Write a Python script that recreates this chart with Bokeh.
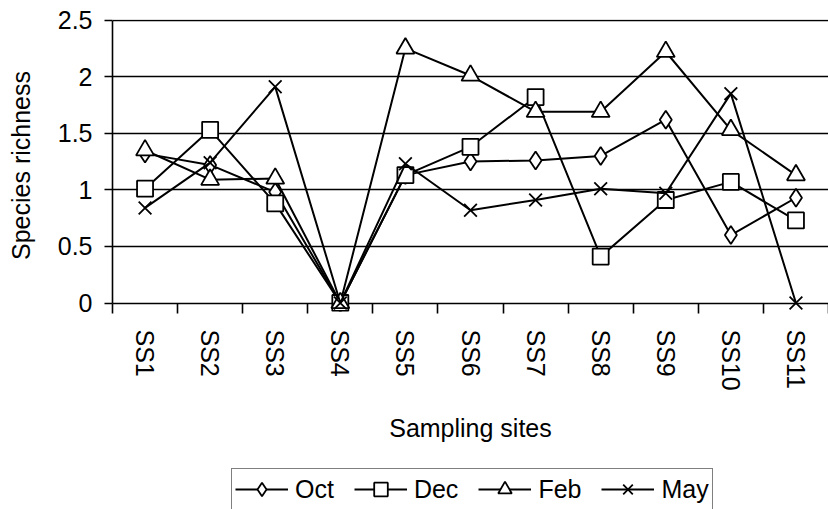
from bokeh.plotting import figure
from bokeh.layouts import column
from bokeh.models import (FixedTicker, Legend, LegendItem, Range1d)
from bokeh.embed import file_html
from bokeh.resources import INLINE

# Species richness per sampling site, one series per sampling month
sites = ["SS1", "SS2", "SS3", "SS4", "SS5", "SS6", "SS7", "SS8", "SS9", "SS10", "SS11"]
oct_vals = [1.32, 1.22, 0.98, 0.0, 1.13, 1.25, 1.26, 1.30, 1.62, 0.60, 0.93]
dec_vals = [1.01, 1.53, 0.88, 0.0, 1.13, 1.38, 1.82, 0.41, 0.91, 1.07, 0.73]
feb_vals = [1.35, 1.09, 1.10, 0.0, 2.25, 2.01, 1.69, 1.69, 2.22, 1.53, 1.13]
may_vals = [0.84, 1.24, 1.91, 0.0, 1.23, 0.82, 0.91, 1.01, 0.97, 1.85, 0.0]
y_ticks = [0, 0.5, 1, 1.5, 2, 2.5]
y_tick_labels = ["0", "0.5", "1", "1.5", "2", "2.5"]

FONT = "Liberation Sans"
x = list(range(1, len(sites) + 1))

p = figure(width=828, height=465, output_backend="svg", toolbar_location=None,
           x_range=Range1d(0.5, 11.5), y_range=Range1d(-0.075, 2.505),
           min_border_left=112, min_border_right=0, min_border_top=19,
           min_border_bottom=154)
p.outline_line_color = None
p.background_fill_color = "white"
p.border_fill_color = "white"

# horizontal gridlines (the one at 0 doubles as the category axis line)
p.xgrid.visible = False
p.ygrid.ticker = FixedTicker(ticks=y_ticks)
p.ygrid.grid_line_color = "black"
p.ygrid.grid_line_width = 1.6

# y axis
p.yaxis.ticker = FixedTicker(ticks=y_ticks)
p.yaxis.major_label_overrides = {t: s for t, s in zip(y_ticks, y_tick_labels)}
p.yaxis.bounds = (0, 2.5)
p.yaxis.axis_line_color = "black"
p.yaxis.axis_line_width = 1.6
p.yaxis.major_tick_in = 0
p.yaxis.major_tick_out = 8
p.yaxis.major_tick_line_width = 1.6
p.yaxis.minor_tick_line_color = None
p.yaxis.major_label_standoff = 12
p.yaxis.major_label_text_font = FONT
p.yaxis.major_label_text_font_size = "25px"
p.yaxis.major_label_text_color = "black"
p.yaxis.axis_label = "Species richness"
p.yaxis.axis_label_text_font = FONT
p.yaxis.axis_label_text_font_size = "25px"
p.yaxis.axis_label_text_font_style = "normal"
p.yaxis.axis_label_text_color = "black"
p.yaxis.axis_label_standoff = 20

# x axis: labels at site centres, tick marks between sites
p.xaxis.ticker = FixedTicker(ticks=x, minor_ticks=[i + 0.5 for i in range(0, len(sites) + 1)])
p.xaxis.major_label_overrides = {i: s for i, s in zip(x, sites)}
p.xaxis.axis_line_color = None
p.xaxis.major_tick_line_color = None
p.xaxis.minor_tick_line_color = "black"
p.xaxis.minor_tick_line_width = 1.6
p.xaxis.minor_tick_in = 8
p.xaxis.minor_tick_out = 2
p.xaxis.major_label_orientation = "vertical"
p.xaxis.major_label_standoff = 12
p.xaxis.major_label_text_font = FONT
p.xaxis.major_label_text_font_size = "25px"
p.xaxis.major_label_text_color = "black"
p.xaxis.axis_label = "Sampling sites"
p.xaxis.axis_label_text_font = FONT
p.xaxis.axis_label_text_font_size = "25px"
p.xaxis.axis_label_text_font_style = "normal"
p.xaxis.axis_label_text_color = "black"
p.xaxis.axis_label_standoff = 20

series = [
    ("Oct", oct_vals, "diamond", 18),
    ("Dec", dec_vals, "square", 16),
    ("Feb", feb_vals, "triangle", 18),
    ("May", may_vals, "x", 18),
]

for name, vals, marker, size in series:
    p.line(x, vals, line_color="black", line_width=2)
    p.scatter(x, vals, marker=marker, size=size, line_color="black",
              line_width=1.8, fill_color="white")

# legend strip under the chart, with key glyphs styled like the series
leg = figure(width=828, height=44, output_backend="svg", toolbar_location=None,
             x_range=Range1d(0, 1), y_range=Range1d(0, 1),
             x_axis_type=None, y_axis_type=None,
             min_border_left=0, min_border_right=0, min_border_top=0,
             min_border_bottom=0)
leg.outline_line_color = None
leg.grid.visible = False
leg.background_fill_color = "white"
leg.border_fill_color = "white"

items = []
for name, vals, marker, size in series:
    ln = leg.line([-5, -4], [-5, -4], line_color="black", line_width=2)
    sc = leg.scatter([-5], [-5], marker=marker, size=size, line_color="black",
                     line_width=1.8, fill_color="white")
    items.append(LegendItem(label=name, renderers=[ln, sc]))

legend = Legend(items=items, orientation="horizontal", location=(119, -1),
                border_line_color="black", border_line_width=1.6,
                background_fill_color="white", background_fill_alpha=1.0,
                glyph_width=53, glyph_height=34, label_height=24,
                label_standoff=7, spacing=20, padding=3, margin=0,
                label_text_font=FONT, label_text_font_size="25px",
                label_text_color="black")
leg.add_layout(legend, "center")

layout = column(p, leg, spacing=0)
open("out.html", "w").write(file_html(layout, INLINE))
